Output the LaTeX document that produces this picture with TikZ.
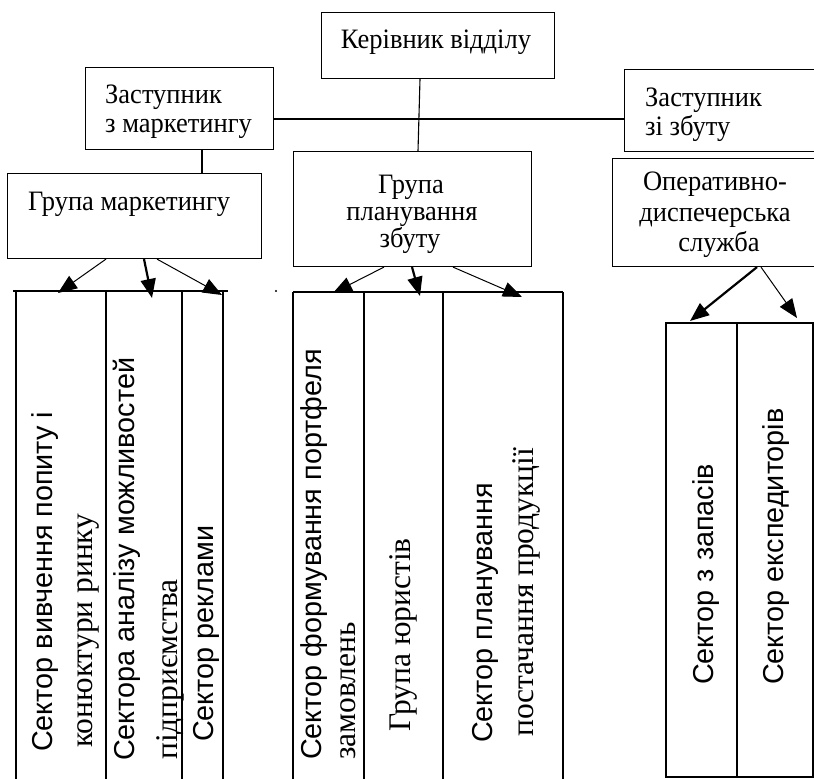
\documentclass[tikz,border=0pt]{standalone}
\usepackage{fontspec}
\setmainfont{Liberation Serif}
\setsansfont{Liberation Sans}
\usetikzlibrary{arrows.meta}
\begin{document}
\begin{tikzpicture}[x=1pt,y=-1pt,
  box/.style={draw, line width=1.1pt, inner sep=0pt, anchor=north west},
  htext/.style={font=\fontsize{26.5}{28}\selectfont, inner sep=0pt, anchor=base west, yscale=1.06},
  hctext/.style={htext, anchor=base},
  vsans/.style={font=\sffamily\fontsize{28.8}{31}\selectfont, rotate=90, inner sep=0pt, anchor=base west},
  vserif/.style={font=\fontsize{31.5}{33}\selectfont, rotate=90, inner sep=0pt, anchor=base west},
  link/.style={line width=1.1pt},
  col/.style={line width=1.8pt},
  thinarr/.style={line width=1pt, -{Triangle[length=19pt,width=15pt]}},
  thickarr/.style={line width=2.2pt, -{Triangle[length=19pt,width=15pt]}},
]
\useasboundingbox (0,0) rectangle (814,779);

% boxes
\node[box, minimum width=233pt, minimum height=66pt] (kr) at (321,12) {};
\node[box, minimum width=188pt, minimum height=82pt] (zm) at (85,67) {};
\node[box, minimum width=254pt, minimum height=85pt] (gm) at (7,173) {};
\node[box, minimum width=238pt, minimum height=115pt] (gp) at (293,151) {};
\node[box, minimum width=200pt, minimum height=82pt] (zz) at (624,69) {};
\node[box, minimum width=210pt, minimum height=108pt] (od) at (612,158) {};

% box texts
\node[hctext] (krt) at (436,48) {Керівник відділу};
\node[htext] (zm1) at (105,103) {Заступник};
\node[htext] (zm2) at (105,132) {з маркетингу};
\node[htext] (gmt) at (28,210) {Група маркетингу};
\node[hctext] (gp1) at (411,193) {Група};
\node[hctext] (gp2) at (412,220) {планування};
\node[hctext] (gp3) at (410,247) {збуту};
\node[htext] (zz1) at (645,106) {Заступник};
\node[htext] (zz2) at (645,135) {зі збуту};
\node[hctext] (od1) at (715,190) {Оперативно-};
\node[hctext] (od2) at (715,221) {диспечерська};
\node[hctext] (od3) at (719,251) {служба};

% connecting lines between boxes
\coordinate (hl) at (0,119);
\coordinate (v1) at (420,0);
\coordinate (v1b) at (418,0);
\coordinate (v2) at (202,0);
\draw[link] (zm.east |- hl) -- (zz.west |- hl);
\draw[link] (kr.south -| v1) -- (gp.north -| v1b);
\draw[link] (zm.south -| v2) -- (gm.north -| v2);

% left column group
\draw[col] (13,291) -- (228,291);
\foreach \x in {16,106,182,223} \draw[col] (\x,291) -- (\x,785);
\fill (276,291) circle (1.1pt);

% middle column group
\draw[col] (293,292) -- (563,292);
\foreach \x in {293,364,443,563} \draw[col] (\x,292) -- (\x,785);

% right column group
\draw[col] (666,323) rectangle (813,777);
\draw[col] (737,323) -- (737,777);

% arrows
\coordinate (sa1) at (106,0); \coordinate (ta1) at (58,293);
\coordinate (sa2) at (144,0); \coordinate (ta2) at (152,298);
\coordinate (sa3) at (157,0); \coordinate (ta3) at (222,295);
\draw[thinarr] (gm.south -| sa1) -- (ta1);
\draw[thickarr] (gm.south -| sa2) -- (ta2);
\draw[thinarr] (gm.south -| sa3) -- (ta3);

\coordinate (sb1) at (384,0); \coordinate (tb1) at (333,293);
\coordinate (sb2) at (412,0); \coordinate (tb2) at (420,296);
\coordinate (sb3) at (453,0); \coordinate (tb3) at (522,297);
\draw[thinarr] (gp.south -| sb1) -- (tb1);
\draw[thickarr] (gp.south -| sb2) -- (tb2);
\draw[thinarr] (gp.south -| sb3) -- (tb3);

\coordinate (sc1) at (757,0); \coordinate (tc1) at (690,321);
\coordinate (sc2) at (761,0); \coordinate (tc2) at (797,318);
\draw[thickarr] (od.south -| sc1) -- (tc1);
\draw[thinarr] (od.south -| sc2) -- (tc2);

% rotated column texts
\node[vsans] (v11) at (52,752) {Сектор вивчення попиту і};
\node[vserif] (v12) at (92,748) {конюктури ринку};
\node[vsans] (v21) at (134,761) {Сектора аналізу можливостей};
\node[vserif] (v22) at (177,760) {підприємства};
\node[vsans] (v3) at (213,742) {Сектор реклами};
\node[vsans] (m11) at (321,760) {Сектор формування портфеля};
\node[vserif] (m12) at (355,760) {замовлень};
\node[vserif] (m2) at (410,732) {Група юристів};
\node[vsans] (m31) at (492,743) {Сектор планування};
\node[vserif] (m32) at (533,737) {постачання продукції};
\node[vsans] (r1) at (713,685) {Сектор з запасів};
\node[vsans] (r2) at (783,685) {Сектор експедиторів};
\end{tikzpicture}
\end{document}
